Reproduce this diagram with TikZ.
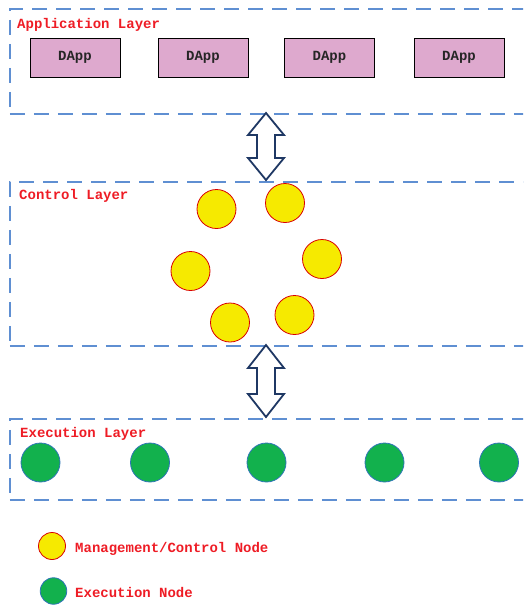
\documentclass[tikz,border=0pt]{standalone}
\usepackage{fontspec}
\setmonofont{Liberation Mono}
\begin{document}
\begin{tikzpicture}[x=1pt,y=-1pt,
  layerbox/.style={draw=dashblue,line width=1.8pt,dash pattern=on 15pt off 9pt,anchor=north west,inner sep=0pt},
  dappbox/.style={draw=black,line width=0.9pt,fill=dapppink,minimum width=90pt,minimum height=39pt,inner sep=0pt,font=\ttfamily\bfseries\fontsize{14}{14}\selectfont,text=black!85},
  lbl/.style={anchor=base west,inner sep=0pt,text=labred,font=\ttfamily\bfseries\fontsize{14}{14}\selectfont},
  mnode/.style={circle,draw=red!85!black,line width=0.8pt,fill=ctrlyellow,minimum size=39pt,inner sep=0pt},
  enode/.style={circle,draw=edgeblue,line width=0.8pt,fill=execgreen,minimum size=39pt,inner sep=0pt},
  darrow/.style={draw=navy,line width=1.8pt,fill=white,line join=miter}
]
\definecolor{dashblue}{HTML}{5F8FD2}
\definecolor{dapppink}{HTML}{DEA9CE}
\definecolor{labred}{HTML}{EE1C25}
\definecolor{ctrlyellow}{HTML}{F6EA00}
\definecolor{execgreen}{HTML}{12B14D}
\definecolor{edgeblue}{HTML}{2E75B6}
\definecolor{navy}{HTML}{1F3864}
\useasboundingbox (0,0) rectangle (523,606);
\clip (0,0) rectangle (523,606);
% layers
\node[layerbox,minimum width=530pt,minimum height=105pt] (app) at (9,8) {};
\node[layerbox,minimum width=530pt,minimum height=164pt] (ctrl) at (9,181) {};
\node[layerbox,minimum width=530pt,minimum height=81pt] (exec) at (9,418) {};
\node[lbl] (applbl) at (17,28) {Application Layer};
\node[lbl] (ctrllbl) at (19,199) {Control Layer};
\node[lbl] (execlbl) at (20,437) {Execution Layer};
% DApps
\node[dappbox] (d1) at (75,57.5) {DApp};
\node[dappbox] (d2) at (203,57.5) {DApp};
\node[dappbox] (d3) at (329.5,57.5) {DApp};
\node[dappbox] (d4) at (459,57.5) {DApp};
% double arrows
\coordinate (a1t) at (266,113);
\coordinate (a1b) at (266,180);
\draw[darrow] (a1t) -- ++(18,22) -- ++(-9,0) -- ++(0,23) -- ++(9,0) -- (a1b)
  -- ++(-18,-22) -- ++(9,0) -- ++(0,-23) -- ++(-9,0) -- cycle;
\coordinate (a2t) at (266,345);
\coordinate (a2b) at (266,417);
\draw[darrow] (a2t) -- ++(18,23) -- ++(-9,0) -- ++(0,26) -- ++(9,0) -- (a2b)
  -- ++(-18,-23) -- ++(9,0) -- ++(0,-26) -- ++(-9,0) -- cycle;
% control nodes
\node[mnode] (m1) at (216.5,209) {};
\node[mnode] (m2) at (285,203) {};
\node[mnode] (m3) at (322,259) {};
\node[mnode] (m4) at (190.5,271) {};
\node[mnode] (m5) at (230,322.5) {};
\node[mnode] (m6) at (294.5,315) {};
% execution nodes
\node[enode] (e1) at (40.5,462.5) {};
\node[enode] (e2) at (150,462.5) {};
\node[enode] (e3) at (266.5,462.5) {};
\node[enode] (e4) at (384.5,462.5) {};
\node[enode] (e5) at (499,462.5) {};
% legend
\node[mnode,minimum size=27pt] (lm) at (52,546) {};
\node[enode,minimum size=26.5pt] (le) at (53.5,591) {};
\node[lbl] (lmt) at (75,552.3) {Management/Control Node};
\node[lbl] (let) at (75,597.3) {Execution Node};
\end{tikzpicture}
\end{document}
